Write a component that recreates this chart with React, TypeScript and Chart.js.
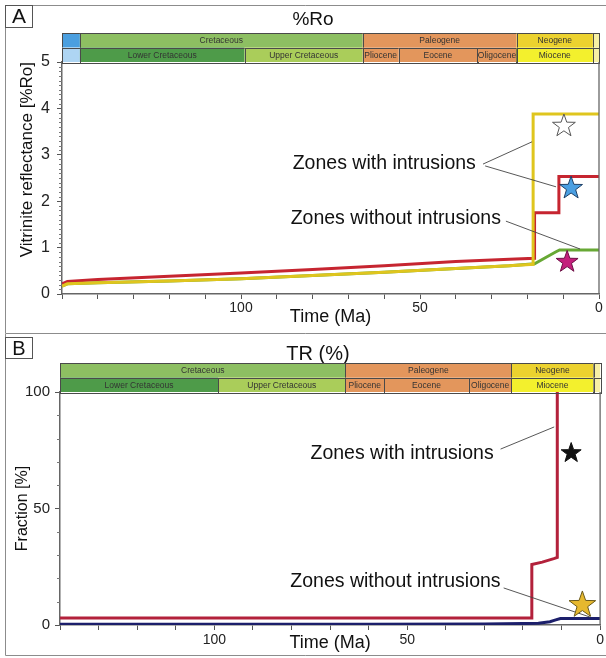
import React, { useEffect, useRef } from "react";
import { Chart, registerables } from "chart.js";

Chart.register(...registerables);

const FONT = "'Liberation Sans', Arial, Helvetica, sans-serif";

// ---------------- Geological time scale (Ma) ----------------
const periodNames = ["", "Cretaceous", "Paleogene", "Neogene", ""];
const periodStart = [150, 145, 66, 23, 1.7];
const periodEnd = [145, 66, 23, 1.7, 0];
const epochNames = ["", "Lower Cretaceous", "Upper Cretaceous", "Pliocene", "Eocene", "Oligocene", "Miocene", ""];
const epochStart = [150, 145, 99, 66, 56, 34, 23, 1.7];
const epochEnd = [145, 99, 66, 56, 34, 23, 1.7, 0];

// ---------------- Panel A: %Ro ----------------
const roRedTime = [150, 148.5, 140, 120, 100, 80, 60, 40, 25, 18.0, 18.0, 11.2, 11.2, 0];
const roRedValue = [0.22, 0.27, 0.31, 0.38, 0.45, 0.53, 0.61, 0.7, 0.75, 0.77, 1.75, 1.75, 2.53, 2.53];
const roYellowTime = [150, 148.5, 140, 120, 100, 80, 60, 40, 25, 18.4, 18.4, 0];
const roYellowValue = [0.17, 0.22, 0.24, 0.28, 0.33, 0.4, 0.47, 0.55, 0.61, 0.64, 3.88, 3.88];
const roGreenTime = [150, 148.5, 140, 120, 100, 80, 60, 40, 25, 18.0, 15, 12, 11, 0];
const roGreenValue = [0.17, 0.22, 0.24, 0.28, 0.33, 0.4, 0.47, 0.55, 0.61, 0.65, 0.78, 0.91, 0.95, 0.95];
const roTimeLabels = [100, 50, 0];
const roStarTime = [9.8, 7.8, 8.9];
const roStarValue = [3.62, 2.28, 0.69];
const roNoteText = ["Zones with intrusions", "Zones without intrusions"];
const roNoteTime = [34.4, 27.4];
const roNoteValue = [2.82, 1.62];
const roLeaderFromTime = [32.4, 31.8, 26.0];
const roLeaderFromValue = [2.8, 2.76, 1.57];
const roLeaderToTime = [18.7, 12.0, 5.3];
const roLeaderToValue = [3.28, 2.31, 0.97];

// ---------------- Panel B: TR (%) ----------------
const trRedTime = [140, 100, 60, 30, 17.8, 17.7, 15, 12, 11.1, 11.1];
const trRedValue = [3, 3, 3, 3, 3, 26, 27, 28.5, 29, 100];
const trBlueTime = [140, 60, 30, 20, 16, 13, 11.5, 10.3, 0];
const trBlueValue = [0.3, 0.35, 0.45, 0.6, 0.8, 1.4, 2.2, 2.8, 2.8];
const trTimeLabels = [100, 50, 0];
const trStarTime = [7.5, 4.6];
const trStarValue = [73.8, 8.6];
const trNoteText = ["Zones with intrusions", "Zones without intrusions"];
const trNoteTime = [27.6, 25.8];
const trNoteValue = [73.4, 18.5];
const trLeaderFromTime = [25.8, 25.0];
const trLeaderFromValue = [75.5, 15.9];
const trLeaderToTime = [11.9, 2.6];
const trLeaderToValue = [85.0, 3.4];

// ---------------- styles ----------------
const periodColors = ["#4b9fdf", "#8dbf62", "#e3965c", "#ecd22f", "#f7f0a4"];
const epochColors = ["#aed5f3", "#4e9b49", "#aacd5a", "#e3965c", "#e3965c", "#e3965c", "#f3f02d", "#f7f0a4"];

function pts(t: number[], v: number[]) {
  return t.map((x, i) => ({ x, y: v[i] }));
}

function drawStar(ctx: CanvasRenderingContext2D, cx: number, cy: number, R: number, fill: string, stroke: string) {
  const r = R * 0.4;
  ctx.beginPath();
  for (let i = 0; i < 10; i++) {
    const a = -Math.PI / 2 + (i * Math.PI) / 5;
    const rad = i % 2 === 0 ? R : r;
    const px = cx + rad * Math.cos(a);
    const py = cy + rad * Math.sin(a);
    if (i === 0) ctx.moveTo(px, py);
    else ctx.lineTo(px, py);
  }
  ctx.closePath();
  ctx.fillStyle = fill;
  ctx.fill();
  ctx.strokeStyle = stroke;
  ctx.lineWidth = 1;
  ctx.stroke();
}

function drawScaleRow(ctx: CanvasRenderingContext2D, xs: any, top: number, h: number, starts: number[], ends: number[], names: string[], colors: string[]) {
  for (let i = 0; i < starts.length; i++) {
    const s = Math.min(starts[i], xs.max);
    const e = Math.max(ends[i], xs.min);
    if (s <= e) continue;
    const x0 = xs.getPixelForValue(s);
    const x1 = xs.getPixelForValue(e);
    ctx.fillStyle = colors[i];
    ctx.fillRect(x0, top, x1 - x0, h);
    ctx.strokeStyle = "#4a4a4a";
    ctx.lineWidth = 1;
    ctx.strokeRect(Math.round(x0) + 0.5, Math.round(top) + 0.5, Math.round(x1 - x0), Math.round(h));
    if (names[i]) {
      ctx.fillStyle = "#333";
      ctx.font = `8.5px ${FONT}`;
      ctx.textAlign = "center";
      ctx.textBaseline = "middle";
      ctx.fillText(names[i], (x0 + x1) / 2, top + h / 2 + 0.5);
    }
  }
}

type Spec = {
  width: number;
  height: number;
  datasets: { t: number[]; v: number[]; color: string; w: number }[];
  xMax: number;
  yMax: number;
  yStep: number;
  yMinor: number;
  timeLabels: number[];
  yTitle: string;
  yTitleAlign: "start" | "center" | "end";
  yTitleSize: number;
  yTitlePad: number;
  yTickSize: number;
  yTickPad: number;
  xTickPad: number;
  xTitlePad: number;
  axisW: number;
  axisH: number;
  pad: { left: number; top: number; right: number; bottom: number };
  title: string;
  titleX: number;
  titleY: number;
  titleSize: number;
  letter: string;
  letterBox: [number, number, number, number];
  letterSize: number;
  frameTop: number | null;
  frameBottom: number | null;
  rowH: number;
  stars: { t: number[]; v: number[]; fills: string[]; strokes: string[]; sizes: number[] };
  notes: { text: string[]; t: number[]; v: number[] };
  leaders: { ft: number[]; fv: number[]; tt: number[]; tv: number[] };
};

function makeConfig(spec: Spec): any {
  const overlay = {
    id: "overlay_" + spec.letter,
    afterDraw(chart: any) {
      const { ctx, chartArea: ca } = chart;
      const xs = chart.scales.x;
      const ys = chart.scales.y;
      ctx.save();
      // frame
      ctx.strokeStyle = "#8c8c8c";
      ctx.lineWidth = 1;
      ctx.beginPath();
      const fTop = spec.frameTop === null ? 0 : spec.frameTop;
      const fBot = spec.frameBottom === null ? spec.height : spec.frameBottom;
      ctx.moveTo(5.5, fTop);
      ctx.lineTo(5.5, fBot);
      if (spec.frameTop !== null) {
        ctx.moveTo(5.5, spec.frameTop);
        ctx.lineTo(spec.width, spec.frameTop);
      }
      if (spec.frameBottom !== null) {
        ctx.moveTo(5.5, spec.frameBottom);
        ctx.lineTo(spec.width, spec.frameBottom);
      }
      ctx.stroke();
      // letter box
      const [bx, by, bw, bh] = spec.letterBox;
      ctx.strokeStyle = "#555";
      ctx.strokeRect(bx, by, bw, bh);
      ctx.fillStyle = "#111";
      ctx.font = `${spec.letterSize}px ${FONT}`;
      ctx.textAlign = "center";
      ctx.textBaseline = "middle";
      ctx.fillText(spec.letter, bx + bw / 2, by + bh / 2 + 1);
      // title
      ctx.font = `${spec.titleSize}px ${FONT}`;
      ctx.fillText(spec.title, spec.titleX, spec.titleY);
      // time scale bars
      drawScaleRow(ctx, xs, ca.top - 2 * spec.rowH, spec.rowH, periodStart, periodEnd, periodNames, periodColors);
      drawScaleRow(ctx, xs, ca.top - spec.rowH, spec.rowH, epochStart, epochEnd, epochNames, epochColors);
      // right border of plot
      ctx.strokeStyle = "#666";
      ctx.lineWidth = 1.3;
      ctx.beginPath();
      ctx.moveTo(ca.right, ca.top);
      ctx.lineTo(ca.right, ca.bottom);
      ctx.stroke();
      // minor y ticks
      ctx.lineWidth = 1;
      ctx.strokeStyle = "#777";
      ctx.beginPath();
      const n = Math.round(spec.yMax / spec.yMinor);
      for (let i = 0; i <= n; i++) {
        const v = i * spec.yMinor;
        const rem = Math.abs(v / spec.yStep - Math.round(v / spec.yStep));
        if (rem < 1e-6) continue;
        const py = Math.round(ys.getPixelForValue(v)) + 0.5;
        ctx.moveTo(ca.left - 3, py);
        ctx.lineTo(ca.left, py);
      }
      ctx.stroke();
      // leader lines
      ctx.strokeStyle = "#444";
      ctx.lineWidth = 0.9;
      ctx.beginPath();
      for (let i = 0; i < spec.leaders.ft.length; i++) {
        ctx.moveTo(xs.getPixelForValue(spec.leaders.ft[i]), ys.getPixelForValue(spec.leaders.fv[i]));
        ctx.lineTo(xs.getPixelForValue(spec.leaders.tt[i]), ys.getPixelForValue(spec.leaders.tv[i]));
      }
      ctx.stroke();
      // notes
      ctx.fillStyle = "#111";
      ctx.font = `19.5px ${FONT}`;
      ctx.textAlign = "right";
      ctx.textBaseline = "middle";
      for (let i = 0; i < spec.notes.text.length; i++) {
        ctx.fillText(spec.notes.text[i], xs.getPixelForValue(spec.notes.t[i]), ys.getPixelForValue(spec.notes.v[i]));
      }
      // stars
      for (let i = 0; i < spec.stars.t.length; i++) {
        drawStar(
          ctx,
          xs.getPixelForValue(spec.stars.t[i]),
          ys.getPixelForValue(spec.stars.v[i]),
          spec.stars.sizes[i],
          spec.stars.fills[i],
          spec.stars.strokes[i]
        );
      }
      ctx.restore();
    },
  };

  const tickFontColor = "#222";
  return {
    type: "line",
    data: {
      datasets: spec.datasets.map((d) => ({
        data: pts(d.t, d.v),
        borderColor: d.color,
        borderWidth: d.w,
        pointRadius: 0,
        tension: 0,
        fill: false,
      })),
    },
    options: {
      animation: false,
      responsive: false,
      events: [],
      layout: { padding: spec.pad },
      plugins: { legend: { display: false }, tooltip: { enabled: false }, title: { display: false } },
      scales: {
        x: {
          type: "linear",
          reverse: true,
          min: 0,
          max: spec.xMax,
          afterFit: (s: any) => {
            s.height = spec.axisH;
          },
          ticks: {
            stepSize: 10,
            autoSkip: false,
            maxRotation: 0,
            padding: spec.xTickPad,
            color: tickFontColor,
            font: { family: FONT, size: 14 },
            callback: (v: any) => (spec.timeLabels.includes(Number(v)) ? String(v) : ""),
          },
          grid: { drawOnChartArea: false, drawTicks: true, tickLength: 5, tickColor: "#555", tickWidth: 1 },
          border: { display: true, color: "#666", width: 1.5 },
          title: {
            display: true,
            text: "Time (Ma)",
            color: "#111",
            font: { family: FONT, size: 18 },
            padding: { top: 0, bottom: spec.xTitlePad },
          },
        },
        y: {
          type: "linear",
          min: 0,
          max: spec.yMax,
          afterFit: (s: any) => {
            s.width = spec.axisW;
          },
          ticks: {
            stepSize: spec.yStep,
            padding: spec.yTickPad,
            color: tickFontColor,
            font: { family: FONT, size: spec.yTickSize },
          },
          grid: { drawOnChartArea: false, drawTicks: true, tickLength: 5, tickColor: "#555", tickWidth: 1 },
          border: { display: true, color: "#666", width: 1.5 },
          title: {
            display: true,
            text: spec.yTitle,
            align: spec.yTitleAlign,
            color: "#111",
            font: { family: FONT, size: spec.yTitleSize },
            padding: { top: spec.yTitlePad, bottom: 0 },
          },
        },
      },
    },
    plugins: [overlay],
  };
}

// Chart.js paints the first dataset on top, so the list runs top -> bottom.
const specA: Spec = {
  width: 606,
  height: 334,
  datasets: [
    { t: roYellowTime, v: roYellowValue, color: "#dfc51e", w: 3 },
    { t: roRedTime, v: roRedValue, color: "#c62530", w: 3 },
    { t: roGreenTime, v: roGreenValue, color: "#67a834", w: 3 },
  ],
  xMax: 150,
  yMax: 5,
  yStep: 1,
  yMinor: 0.1,
  timeLabels: roTimeLabels,
  yTitle: "Vitrinite reflectance [%Ro]",
  yTitleAlign: "end",
  yTitleSize: 17,
  yTitlePad: 17,
  yTickSize: 16,
  yTickPad: 7,
  xTickPad: 1,
  xTitlePad: 6,
  axisW: 62,
  axisH: 40,
  pad: { left: 0, top: 62, right: 7, bottom: 0 },
  title: "%Ro",
  titleX: 313,
  titleY: 20,
  titleSize: 19,
  letter: "A",
  letterBox: [5.5, 5.5, 27, 22],
  letterSize: 21,
  frameTop: 5.5,
  frameBottom: 333.5,
  rowH: 14.5,
  stars: {
    t: roStarTime,
    v: roStarValue,
    fills: ["#ffffff", "#4a9fe2", "#c41f7c"],
    strokes: ["#555", "#1d3f66", "#6d0f45"],
    sizes: [12, 12, 11.5],
  },
  notes: { text: roNoteText, t: roNoteTime, v: roNoteValue },
  leaders: { ft: roLeaderFromTime, fv: roLeaderFromValue, tt: roLeaderToTime, tv: roLeaderToValue },
};

const specB: Spec = {
  width: 606,
  height: 324,
  datasets: [
    { t: trBlueTime, v: trBlueValue, color: "#1c1f6b", w: 3 },
    { t: trRedTime, v: trRedValue, color: "#b3213b", w: 3 },
  ],
  xMax: 140,
  yMax: 100,
  yStep: 50,
  yMinor: 10,
  timeLabels: trTimeLabels,
  yTitle: "Fraction [%]",
  yTitleAlign: "center",
  yTitleSize: 16,
  yTitlePad: 13,
  yTickSize: 15,
  yTickPad: 5,
  xTickPad: 2,
  xTitlePad: 4,
  axisW: 60,
  axisH: 33,
  pad: { left: 0, top: 58, right: 3, bottom: 0 },
  title: "TR (%)",
  titleX: 318,
  titleY: 20,
  titleSize: 20,
  letter: "B",
  letterBox: [5.5, 3.5, 27, 21],
  letterSize: 20,
  frameTop: null,
  frameBottom: 321.5,
  rowH: 14.5,
  stars: {
    t: trStarTime,
    v: trStarValue,
    fills: ["#111111", "#e6b82e"],
    strokes: ["#111", "#6b5a1a"],
    sizes: [10.5, 14],
  },
  notes: { text: trNoteText, t: trNoteTime, v: trNoteValue },
  leaders: { ft: trLeaderFromTime, fv: trLeaderFromValue, tt: trLeaderToTime, tv: trLeaderToValue },
};

function Panel({ spec, top }: { spec: Spec; top: number }) {
  const ref = useRef<HTMLCanvasElement | null>(null);
  useEffect(() => {
    if (!ref.current) return;
    const chart = new Chart(ref.current, makeConfig(spec));
    return () => chart.destroy();
  }, [spec]);
  return (
    <canvas
      ref={ref}
      width={spec.width}
      height={spec.height}
      style={{ position: "absolute", left: 0, top, width: spec.width, height: spec.height, display: "block" }}
    />
  );
}

export default function App() {
  useEffect(() => {
    document.body.style.margin = "0";
    document.body.style.background = "#ffffff";
  }, []);
  return (
    <div style={{ position: "relative", width: 606, height: 658, background: "#fff", overflow: "hidden" }}>
      <Panel spec={specA} top={0} />
      <Panel spec={specB} top={334} />
    </div>
  );
}
